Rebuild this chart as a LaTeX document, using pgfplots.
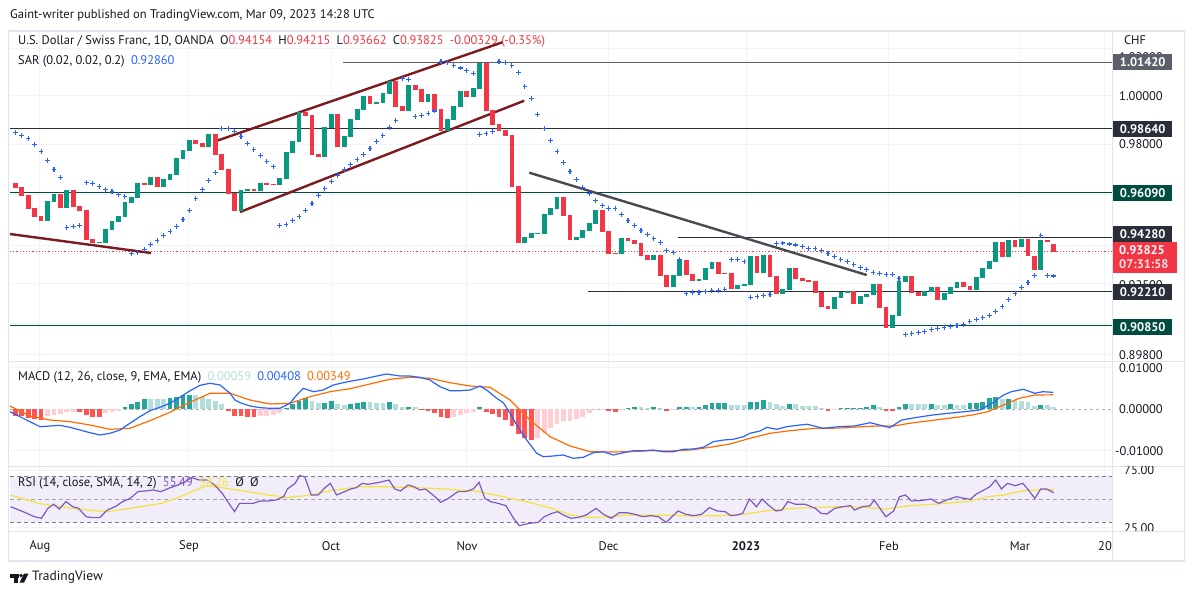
\documentclass[border=0pt]{standalone}
\usepackage{fontspec}
\setmainfont{PT Sans}
\usepackage{pgfplots}
\usepackage{pgfplotstable}
\pgfplotsset{compat=1.18}
\definecolor{tvtext}{HTML}{131722}
\definecolor{tvred}{HTML}{F23645}
\definecolor{tvgreen}{HTML}{089981}
\definecolor{sarblue}{HTML}{2962FF}
\definecolor{sigorange}{HTML}{FF6D00}
\definecolor{hg}{HTML}{26A69A}
\definecolor{hlg}{HTML}{B2DFDB}
\definecolor{hr}{HTML}{FF5252}
\definecolor{hlr}{HTML}{FFCDD2}
\definecolor{rsipurple}{HTML}{7E57C2}
\definecolor{rsiyellow}{HTML}{F5E23C}
\definecolor{rsibg}{HTML}{F2EEF9}
\definecolor{gridc}{HTML}{F0F3FA}
\definecolor{framec}{HTML}{E0E3EB}
\definecolor{maroon}{HTML}{7D1A1F}
\definecolor{trendgray}{HTML}{4A4B52}
\definecolor{lvdark}{HTML}{2A2E39}
\definecolor{lvgreen}{HTML}{004D40}
\definecolor{lvgray}{HTML}{5D606B}
\definecolor{dashgray}{HTML}{787B86}

% ---------- candles (bar index, open, close) ----------
\pgfplotstableread{
i o c
5 0.9507 0.9586
6 0.9583 0.9614
8 0.9559 0.9630
13 0.9418 0.9422
14 0.9418 0.9474
15 0.9470 0.9506
16 0.9502 0.9526
17 0.9522 0.9582
18 0.9578 0.9602
19 0.9598 0.9658
21 0.9650 0.9682
23 0.9642 0.9674
24 0.9670 0.9694
25 0.9690 0.9758
26 0.9754 0.9790
27 0.9786 0.9830
30 0.9802 0.9854
35 0.9546 0.9630
36 0.9626 0.9634
38 0.9626 0.9658
41 0.9650 0.9678
42 0.9674 0.9782
43 0.9778 0.9826
44 0.9822 0.9942
48 0.9762 0.9882
49 0.9878 0.9934
51 0.9802 0.9846
52 0.9842 0.9914
53 0.9910 0.9954
54 0.9950 1.0006
56 0.9974 0.9982
57 0.9978 1.0018
58 1.0014 1.0066
61 0.9946 1.0050
64 0.9982 1.0014
67 0.9866 0.9914
68 0.9910 0.9966
69 0.9962 1.0026
71 1.0002 1.0038
72 1.0034 1.0139
79 0.9419 0.9442
80 0.9439 0.9458
81 0.9454 0.9458
82 0.9454 0.9534
83 0.9530 0.9558
84 0.9554 0.9602
87 0.9430 0.9442
88 0.9439 0.9470
89 0.9466 0.9498
90 0.9494 0.9550
94 0.9375 0.9438
99 0.9351 0.9371
102 0.9243 0.9291
103 0.9287 0.9351
106 0.9267 0.9275
107 0.9271 0.9319
108 0.9315 0.9343
112 0.9235 0.9251
113 0.9247 0.9255
114 0.9251 0.9367
116 0.9299 0.9371
119 0.9215 0.9235
120 0.9231 0.9319
127 0.9155 0.9203
128 0.9199 0.9223
129 0.9219 0.9227
131 0.9175 0.9207
132 0.9203 0.9215
133 0.9211 0.9255
136 0.9079 0.9131
137 0.9127 0.9267
138 0.9263 0.9287
141 0.9207 0.9227
142 0.9223 0.9243
144 0.9191 0.9219
145 0.9215 0.9243
146 0.9239 0.9263
149 0.9231 0.9283
150 0.9279 0.9319
151 0.9315 0.9347
152 0.9343 0.9423
154 0.9363 0.9431
156 0.9403 0.9435
159 0.9311 0.9431
}\greenc
\pgfplotstableread{
i o c
0 0.9658 0.9639
1 0.9642 0.9607
2 0.9610 0.9555
3 0.9559 0.9523
4 0.9526 0.9507
7 0.9614 0.9559
9 0.9630 0.9563
10 0.9566 0.9547
11 0.9550 0.9430
12 0.9434 0.9418
20 0.9658 0.9650
22 0.9682 0.9642
28 0.9830 0.9814
29 0.9818 0.9802
31 0.9854 0.9770
32 0.9774 0.9710
33 0.9714 0.9614
34 0.9618 0.9546
37 0.9634 0.9626
39 0.9658 0.9650
40 0.9654 0.9650
45 0.9942 0.9926
46 0.9930 0.9770
47 0.9774 0.9762
50 0.9934 0.9802
55 1.0006 0.9974
59 1.0066 0.9962
60 0.9966 0.9946
62 1.0050 1.0030
63 1.0034 0.9982
65 1.0014 0.9950
66 0.9954 0.9866
70 1.0026 1.0002
73 1.0139 0.9946
74 0.9950 0.9890
75 0.9894 0.9866
76 0.9870 0.9846
77 0.9850 0.9643
78 0.9647 0.9419
85 0.9602 0.9527
86 0.9530 0.9430
91 0.9550 0.9462
92 0.9466 0.9375
93 0.9379 0.9375
95 0.9438 0.9427
96 0.9430 0.9415
97 0.9419 0.9367
98 0.9371 0.9351
100 0.9371 0.9287
101 0.9291 0.9243
104 0.9351 0.9291
105 0.9295 0.9267
109 0.9343 0.9295
110 0.9299 0.9295
111 0.9299 0.9235
115 0.9367 0.9299
117 0.9371 0.9283
118 0.9287 0.9215
121 0.9319 0.9275
122 0.9279 0.9267
123 0.9271 0.9263
124 0.9267 0.9219
125 0.9223 0.9163
126 0.9167 0.9155
130 0.9227 0.9175
134 0.9255 0.9159
135 0.9163 0.9079
139 0.9287 0.9219
140 0.9223 0.9207
143 0.9243 0.9191
147 0.9263 0.9243
148 0.9247 0.9231
153 0.9423 0.9363
155 0.9431 0.9403
157 0.9435 0.9367
158 0.9367 0.9311
160 0.9431 0.9423
161 0.94154 0.93825
}\redc
% ---------- parabolic SAR ----------
\pgfplotstableread{
i s
0 0.9861
1 0.9849
2 0.9837
3 0.9813
4 0.9785
5 0.9749
6 0.9713
7 0.9681
8 0.9481
9 0.9485
10 0.9489
11 0.9661
12 0.9657
13 0.9645
14 0.9633
15 0.9625
16 0.9613
17 0.9605
18 0.9377
19 0.9381
20 0.9393
21 0.9413
22 0.9429
23 0.9449
24 0.9465
25 0.9485
26 0.9513
27 0.9549
28 0.9597
29 0.9633
30 0.9669
31 0.9701
32 0.9877
33 0.9877
34 0.9865
35 0.9845
36 0.9817
37 0.9793
38 0.9769
39 0.9745
40 0.9725
41 0.9489
42 0.9493
43 0.9509
44 0.9525
45 0.9549
46 0.9577
47 0.9609
48 0.9637
49 0.9665
50 0.9689
51 0.9713
52 0.9733
53 0.9753
54 0.9773
55 0.9797
56 0.9825
57 0.9849
58 0.9881
59 0.9909
60 1.0075
61 1.0071
62 0.9923
63 0.9929
64 0.9937
65 0.9946
66 1.0145
67 1.0139
68 1.0129
69 1.0118
70 1.0109
71 1.0095
72 0.9853
73 0.9857
74 0.9863
75 1.0145
76 1.0139
77 1.0129
78 1.0101
79 1.0045
80 0.9995
81 0.9933
82 0.9877
83 0.9829
84 0.9785
85 0.9741
86 0.9705
87 0.9673
88 0.9641
89 0.9617
90 0.9587
91 0.9567
92 0.9557
93 0.9557
94 0.9533
95 0.9509
96 0.9489
97 0.9469
98 0.9453
99 0.9437
100 0.9421
101 0.9389
102 0.9381
103 0.9353
104 0.9217
105 0.9221
106 0.9221
107 0.9225
108 0.9229
109 0.9229
110 0.9233
111 0.9353
112 0.9353
113 0.9345
114 0.9201
115 0.9205
116 0.9209
117 0.9213
118 0.9417
119 0.9418
120 0.9414
121 0.9410
122 0.9403
123 0.9395
124 0.9395
125 0.9387
126 0.9375
127 0.9363
128 0.9351
129 0.9343
130 0.9331
131 0.9319
132 0.9311
133 0.9299
134 0.9295
135 0.9291
136 0.9291
137 0.9275
138 0.9051
139 0.9055
140 0.9059
141 0.9063
142 0.9071
143 0.9075
144 0.9079
145 0.9083
146 0.9087
147 0.9091
148 0.9103
149 0.9111
150 0.9119
151 0.9127
152 0.9143
153 0.9163
154 0.9191
155 0.9215
156 0.9239
157 0.9259
158 0.9287
159 0.9447
160 0.9287
161 0.9286
}\sar
% ---------- MACD ----------
\pgfplotstableread{
i v
-0.82 -0.00058
0.73 -0.00178
2.28 -0.00299
3.83 -0.00419
5.38 -0.00402
6.93 -0.00386
8.48 -0.00434
10.03 -0.00499
11.58 -0.00564
13.13 -0.00619
14.68 -0.00578
16.23 -0.00499
17.78 -0.00337
19.33 -0.00178
20.88 -0.00034
22.43 0.00048
23.98 0.00145
25.53 0.00289
27.09 0.00448
28.64 0.00578
30.19 0.00627
31.74 0.00586
33.29 0.00386
34.06 0.00224
34.84 0.00159
36.39 0.00080
37.94 0.00039
39.49 0.00024
41.04 0.00024
42.59 0.00145
43.63 0.00345
44.65 0.00506
46.20 0.00424
47.75 0.00465
49.30 0.00586
50.85 0.00641
52.40 0.00689
53.95 0.00730
56.03 0.00802
57.58 0.00851
59.64 0.00802
61.19 0.00802
62.74 0.00771
64.29 0.00706
65.84 0.00545
67.40 0.00448
68.95 0.00448
70.50 0.00465
72.05 0.00561
73.08 0.00465
74.64 0.00265
75.66 0.00159
76.71 -0.00096
77.74 -0.00378
79.29 -0.00740
80.84 -0.01060
81.86 -0.01142
83.41 -0.01125
84.96 -0.01101
86.51 -0.01181
88.06 -0.01157
89.61 -0.01046
91.16 -0.01022
92.71 -0.01101
94.26 -0.01046
95.81 -0.00998
97.36 -0.00998
98.91 -0.00981
100.47 -0.01022
102.02 -0.01022
103.57 -0.00964
105.12 -0.00957
106.67 -0.00916
108.22 -0.00781
109.77 -0.00740
111.32 -0.00723
112.87 -0.00660
113.91 -0.00578
115.46 -0.00523
116.50 -0.00434
118.05 -0.00482
119.60 -0.00419
121.66 -0.00378
122.82 -0.00361
125.24 -0.00458
127.67 -0.00419
130.11 -0.00402
132.54 -0.00323
134.37 -0.00395
135.58 -0.00443
137.41 -0.00258
139.84 -0.00193
142.28 -0.00137
144.70 -0.00096
147.13 -0.00058
149.57 -0.00017
151.40 0.00145
153.21 0.00345
154.43 0.00424
156.25 0.00482
158.08 0.00386
159.29 0.00424
160.93 0.00408
}\macd
\pgfplotstableread{
i v
-0.82 0.00080
2.28 -0.00161
5.38 -0.00258
8.48 -0.00299
11.58 -0.00378
14.68 -0.00482
17.78 -0.00458
20.88 -0.00275
23.98 -0.00072
27.09 0.00169
30.19 0.00386
33.29 0.00386
36.39 0.00224
39.49 0.00128
42.59 0.00145
45.69 0.00304
48.79 0.00424
51.89 0.00496
54.99 0.00610
58.09 0.00723
61.19 0.00771
64.29 0.00747
67.40 0.00641
70.50 0.00561
73.60 0.00530
76.71 0.00224
79.81 -0.00258
82.91 -0.00660
86.01 -0.00884
89.11 -0.01022
92.21 -0.01029
95.31 -0.01022
98.41 -0.00998
101.50 -0.01005
104.60 -0.00981
107.70 -0.00916
110.80 -0.00836
113.90 -0.00699
117.00 -0.00578
120.10 -0.00516
124.03 -0.00458
126.47 -0.00458
128.90 -0.00443
131.33 -0.00419
133.75 -0.00402
136.19 -0.00402
138.62 -0.00337
141.05 -0.00289
143.49 -0.00241
145.92 -0.00193
148.36 -0.00137
150.78 -0.00058
153.21 0.00104
155.64 0.00265
158.08 0.00345
160.93 0.00349
}\signal
\pgfplotstableread{
i v
0 -0.00161
1 -0.00161
2 -0.00217
3 -0.00241
4 -0.00258
10 -0.00065
11 -0.00137
12 -0.00176
13 -0.00176
33 -0.00031
34 -0.00150
35 -0.00170
36 -0.00176
37 -0.00180
63 -0.00017
64 -0.00031
65 -0.00080
66 -0.00176
67 -0.00200
73 -0.00055
74 -0.00120
75 -0.00193
76 -0.00258
77 -0.00402
78 -0.00602
79 -0.00699
80 -0.00740
92 -0.00041
93 -0.00055
101 -0.00031
126 -0.00041
135 -0.00041
136 -0.00041
}\histr
\pgfplotstableread{
i v
5 -0.00161
6 -0.00137
7 -0.00120
8 -0.00055
9 -0.00055
14 -0.00096
15 -0.00055
16 -0.00031
38 -0.00152
39 -0.00152
40 -0.00137
41 -0.00080
68 -0.00176
69 -0.00128
70 -0.00096
71 -0.00055
81 -0.00682
82 -0.00578
83 -0.00458
84 -0.00354
85 -0.00282
86 -0.00282
87 -0.00241
88 -0.00176
89 -0.00096
90 -0.00007
91 -0.00017
94 -0.00017
102 -0.00024
127 -0.00017
}\histlr
\pgfplotstableread{
i v
17 0.00048
18 0.00120
19 0.00186
20 0.00258
24 0.00282
25 0.00306
26 0.00337
27 0.00345
42 0.00024
43 0.00120
44 0.00200
45 0.00265
48 0.00161
49 0.00210
52 0.00120
53 0.00161
54 0.00176
58 0.00176
61 0.00065
72 0.00065
95 0.00041
96 0.00055
99 0.00055
103 0.00055
104 0.00055
106 0.00065
107 0.00113
108 0.00161
109 0.00161
110 0.00161
114 0.00176
115 0.00176
116 0.00224
120 0.00128
128 0.00041
129 0.00041
130 0.00041
131 0.00041
132 0.00065
133 0.00113
137 0.00055
138 0.00137
142 0.00137
145 0.00137
148 0.00161
149 0.00161
150 0.00186
151 0.00265
152 0.00289
154 0.00258
159 0.00113
}\histg
\pgfplotstableread{
i v
21 0.00258
22 0.00241
23 0.00241
28 0.00337
29 0.00289
30 0.00241
31 0.00200
32 0.00128
46 0.00210
47 0.00145
50 0.00137
51 0.00104
55 0.00169
56 0.00161
57 0.00161
59 0.00120
60 0.00065
62 0.00065
97 0.00048
98 0.00024
100 0.00024
105 0.00055
111 0.00113
112 0.00113
113 0.00113
117 0.00176
118 0.00128
119 0.00080
121 0.00128
122 0.00089
123 0.00089
124 0.00089
125 0.00036
134 0.00065
139 0.00137
140 0.00137
141 0.00137
143 0.00113
144 0.00113
146 0.00113
147 0.00113
153 0.00241
155 0.00224
156 0.00210
157 0.00186
158 0.00080
160 0.00113
161 0.00059
}\histlg
% ---------- RSI ----------
\pgfplotstableread{
i r
-0.71 43.3
1.20 39.0
2.98 34.6
4.05 33.2
5.06 41.9
5.95 45.4
6.84 41.3
7.85 47.7
8.92 43.3
9.81 41.9
11.00 34.6
11.90 33.8
13.08 33.8
14.27 40.4
15.46 43.3
16.65 47.7
17.83 50.6
19.02 56.4
20.21 57.0
21.40 57.8
22.59 56.4
23.77 59.3
24.96 61.6
26.15 64.5
27.34 68.6
28.53 66.5
29.72 66.5
30.90 62.2
32.09 54.9
33.28 44.8
34.00 39.0
34.77 46.2
35.95 46.2
36.85 46.2
38.03 48.3
39.22 48.3
40.41 49.1
41.60 52.0
42.19 58.7
43.38 63.6
44.09 70.3
44.87 69.4
45.88 53.5
46.95 53.5
48.02 59.9
48.85 63.6
49.80 53.5
50.81 55.8
52.00 58.7
52.89 59.9
53.78 63.6
54.67 62.8
55.56 63.6
56.45 64.5
57.94 66.5
58.83 58.7
59.72 57.0
60.91 62.2
61.80 60.7
62.69 57.8
63.58 58.7
64.77 53.5
65.96 47.1
67.15 50.6
68.63 56.4
69.82 56.4
71.01 58.7
71.90 64.5
72.79 50.6
73.68 47.7
74.87 46.2
76.06 44.2
77.25 33.2
78.14 26.8
79.63 28.8
81.11 29.7
82.00 34.6
83.19 37.5
84.08 39.0
84.97 36.1
86.16 33.2
87.35 34.1
88.54 36.1
90.03 41.9
91.20 36.7
92.40 33.2
93.63 38.1
94.84 38.1
96.06 36.7
97.28 34.6
98.49 35.5
99.71 34.6
100.92 29.7
102.75 39.6
103.96 36.7
105.18 35.5
106.40 36.7
107.61 42.5
108.83 39.6
110.04 39.0
110.95 35.5
111.87 36.1
112.78 37.5
113.81 50.0
114.91 43.3
115.82 50.0
116.73 44.8
117.95 39.6
118.86 40.4
119.77 47.7
120.99 45.4
122.50 45.4
124.03 41.9
124.94 37.5
125.85 37.0
127.06 41.9
128.28 43.3
129.50 44.2
130.10 40.4
131.32 43.3
132.53 44.2
133.14 49.1
134.05 41.9
134.97 34.6
136.18 39.6
137.10 52.0
138.01 53.5
138.92 48.3
140.44 48.6
141.96 50.0
143.17 46.2
144.39 49.1
145.91 52.0
147.12 50.6
148.04 49.7
148.95 54.1
150.16 57.8
151.08 60.7
151.99 66.5
152.90 58.7
153.81 63.6
155.03 61.6
156.24 63.6
158.07 50.6
158.98 58.7
159.89 58.7
161.00 55.49
}\rsi
\pgfplotstableread{
i r
-0.71 53.5
3.57 46.2
9.51 41.3
14.27 39.0
17.83 41.9
22.59 46.2
24.96 50.6
27.34 56.4
29.72 61.6
30.90 60.7
34.47 57.8
39.22 53.5
42.19 51.4
45.16 52.9
48.73 57.0
53.48 60.7
57.05 60.7
61.80 59.9
64.77 59.3
68.93 57.8
71.90 56.4
74.87 52.9
79.63 47.1
83.19 41.9
86.16 36.1
88.54 34.1
91.20 34.3
94.84 36.1
99.71 36.1
104.57 35.2
109.43 35.5
113.08 36.7
116.73 39.9
120.38 41.9
124.03 42.5
127.67 43.3
131.32 42.8
134.97 41.3
138.61 44.2
142.26 45.4
145.91 47.1
147.73 47.7
150.77 52.0
153.20 53.5
156.24 57.0
158.07 57.8
161.00 58.26
}\rsisma

\tikzset{lbl/.style={font=\fontsize{12.5}{14}\selectfont, text=tvtext, inner sep=0pt},
  box/.style={font=\fontsize{12.5}{14}\selectfont\bfseries, text=white, inner sep=0pt, minimum width=59pt, minimum height=16pt, anchor=west}}
\pgfplotsset{pane/.style={scale only axis, width=1102pt, anchor=south west,
  xmin=-0.82, xmax=170.03, axis line style={draw=none}, tick style={draw=none},
  xticklabels={}, yticklabels={}, scaled y ticks=false, scaled x ticks=false,
  grid=major, major grid style={draw=gridc, line width=1pt},
  xtick={3.83,26.93,48.95,70.03,91.98,113.29,135.45,155.77,168.94}}}

\begin{document}
\begin{tikzpicture}[x=1pt,y=1pt]
\fill[white] (0pt,0pt) rectangle (1194pt,595pt);

% ================= main price pane =================
\begin{axis}[pane, at={(10pt,233pt)}, height=331pt, ymin=0.8942, ymax=1.0266,
  ytick={0.89704,0.90968,0.9254,0.94092,0.9612,0.98116,1.00064,1.01956}]
% horizontal levels
\addplot[lvgray, line width=1pt] coordinates {(50.85,1.01408) (170.03,1.01408)};
\addplot[lvdark, line width=1pt] coordinates {(-0.82,0.9874) (170.03,0.9874)};
\addplot[lvgreen, line width=1pt] coordinates {(-0.82,0.9620) (170.03,0.9620)};
\addplot[lvdark, line width=1pt] coordinates {(102.8,0.94392) (170.03,0.94392)};
\addplot[lvdark, line width=1pt] coordinates {(88.84,0.9224) (170.03,0.9224)};
\addplot[lvgreen, line width=1pt] coordinates {(-0.82,0.9086) (170.03,0.9086)};
\addplot[tvred, line width=0.9pt, dash pattern=on 1.2pt off 2pt] coordinates {(-0.82,0.9386) (170.03,0.9386)};
% trend lines
\addplot[maroon, line width=2.4pt] coordinates {(30.96,0.98244) (75.61,1.02216)};
\addplot[maroon, line width=2.4pt] coordinates {(34.84,0.9542) (78.91,0.99872)};
\addplot[maroon, line width=2.4pt] coordinates {(-0.82,0.9454) (21.04,0.9378)};
\addplot[trendgray, line width=2.4pt] coordinates {(79.69,0.96992) (132.0,0.929)};
% SAR
\addplot[only marks, mark=+, mark size=2.3pt, mark options={draw=sarblue, line width=1.1pt}] table[x=i, y=s] {\sar};
% candles
\addplot[draw=none, no markers, forget plot, error bars/.cd, y dir=plus, y explicit, error mark=none,
  error bar style={draw=tvgreen, line width=4.8pt, solid}]
  table[x=i, y=o, y error expr=\thisrow{c}-\thisrow{o}] {\greenc};
\addplot[draw=none, no markers, forget plot, error bars/.cd, y dir=plus, y explicit, error mark=none,
  error bar style={draw=tvred, line width=4.8pt, solid}]
  table[x=i, y=c, y error expr=\thisrow{o}-\thisrow{c}] {\redc};
\end{axis}

% ================= MACD pane =================
\begin{axis}[pane, at={(10pt,129pt)}, height=104pt, ymin=-0.013663, ymax=0.011398,
  ytick={-0.01,0.01}]
\draw[dashgray!60, dash pattern=on 3pt off 3pt, line width=0.8pt] (axis cs:-0.82,0) -- (axis cs:170.03,0);
\addplot[ycomb, draw=hr, line width=4.8pt, mark=none] table[x=i, y=v] {\histr};
\addplot[ycomb, draw=hlr, line width=4.8pt, mark=none] table[x=i, y=v] {\histlr};
\addplot[ycomb, draw=hg, line width=4.8pt, mark=none] table[x=i, y=v] {\histg};
\addplot[ycomb, draw=hlg, line width=4.8pt, mark=none] table[x=i, y=v] {\histlg};
\addplot[sigorange, line width=1.2pt, mark=none] table[x=i, y=v] {\signal};
\addplot[sarblue, line width=1.2pt, mark=none] table[x=i, y=v] {\macd};
\end{axis}

% ================= RSI pane =================
\begin{axis}[pane, at={(10pt,64pt)}, height=65pt, ymin=22.17, ymax=78.7, ytick={25,75}]
\fill[rsibg] (axis cs:-0.82,30) rectangle (axis cs:170.03,70);
\draw[dashgray, dash pattern=on 4pt off 3pt, line width=0.8pt] (axis cs:-0.82,70) -- (axis cs:170.03,70);
\draw[dashgray!70, dash pattern=on 4pt off 3pt, line width=0.8pt] (axis cs:-0.82,50) -- (axis cs:170.03,50);
\draw[dashgray, dash pattern=on 4pt off 3pt, line width=0.8pt] (axis cs:-0.82,30) -- (axis cs:170.03,30);
\addplot[rsiyellow, line width=1.2pt, mark=none] table[x=i, y=r] {\rsisma};
\addplot[rsipurple, line width=1.2pt, mark=none] table[x=i, y=r] {\rsi};
\end{axis}

% ================= frame and separators =================
\draw[framec, line width=1pt] (1112pt,34pt) -- (1112pt,564pt);
\draw[framec, line width=1pt] (8.5pt,233pt) -- (1184.5pt,233pt);
\draw[framec, line width=1pt] (8.5pt,129pt) -- (1184.5pt,129pt);
\draw[framec, line width=1pt] (8.5pt,64pt) -- (1184.5pt,64pt);
\draw[framec, line width=1.2pt] (8.5pt,34pt) rectangle (1184.5pt,564pt);

% ================= price scale =================
\begin{scope}
\clip (1113pt,233.5pt) rectangle (1184pt,563.5pt);
\node[lbl, anchor=west] at (1119pt,538pt) {1.02000};
\node[lbl, anchor=west] at (1119pt,499.1pt) {1.00000};
\node[lbl, anchor=west] at (1119pt,450.4pt) {0.98000};
\node[lbl, anchor=west] at (1119pt,310pt) {0.92500};
\node[lbl, anchor=west] at (1119pt,240.1pt) {0.89800};
\end{scope}
\node[lbl, anchor=center] at (1135pt,555pt) {CHF};
\node[box, fill=lvgray] at (1113pt,532.5pt) {1.01420};
\node[box, fill=lvdark] at (1113pt,466pt) {0.98640};
\node[box, fill=lvgreen] at (1113pt,402.1pt) {0.96090};
\node[box, fill=lvdark] at (1113pt,361.2pt) {0.94280};
\fill[tvred] (1113pt,322pt) rectangle (1177pt,353pt);
\node[font=\fontsize{12.5}{14}\selectfont\bfseries, text=white, inner sep=0pt, anchor=west] at (1119pt,345pt) {0.93825};
\node[font=\fontsize{12.5}{14}\selectfont\bfseries, text=white!85!tvred, inner sep=0pt, anchor=west] at (1119pt,330.5pt) {07:31:58};
\node[box, fill=lvdark] at (1113pt,303pt) {0.92210};
\node[box, fill=lvgreen] at (1113pt,267.7pt) {0.90850};

\begin{scope}
\clip (1113pt,129.5pt) rectangle (1184pt,232.5pt);
\node[lbl, anchor=west] at (1119pt,227pt) {0.01000};
\node[lbl, anchor=west] at (1119pt,185.7pt) {0.00000};
\node[lbl, anchor=west] at (1115pt,144.2pt) {-0.01000};
\end{scope}
\begin{scope}
\clip (1113pt,64.5pt) rectangle (1184pt,128.5pt);
\node[lbl, anchor=west] at (1124pt,124.75pt) {75.00};
\node[lbl, anchor=west] at (1124pt,67.25pt) {25.00};
\end{scope}

% ================= date axis =================
\foreach \xx/\tt in {40/Aug,189/Sep,331/Oct,467/Nov,608.6/Dec,889/Feb,1020/Mar,1105/20}
  \node[lbl] at (\xx pt,49pt) {\tt};
\node[lbl, font=\fontsize{12.5}{14}\selectfont\bfseries] at (746pt,49pt) {2023};

% ================= legends =================
\node[lbl, anchor=west] at (18pt,554pt) {U.S. Dollar / Swiss Franc, 1D, OANDA\enspace O\textcolor{tvred}{0.94154}\enspace H\textcolor{tvred}{0.94215}\enspace L\textcolor{tvred}{0.93662}\enspace C\textcolor{tvred}{0.93825}\enspace\textcolor{tvred}{-0.00329 (-0.35\%)}};
\node[lbl, anchor=west] at (18pt,534pt) {SAR (0.02, 0.02, 0.2)\enspace\textcolor{sarblue}{0.92860}};
\node[lbl, anchor=west] at (18pt,217.5pt) {MACD (12, 26, close, 9, EMA, EMA)\enspace\textcolor{hlg}{0.00059}\enspace\textcolor{sarblue}{0.00408}\enspace\textcolor{sigorange}{0.00349}};
\node[lbl, anchor=west] at (18pt,112pt) {RSI (14, close, SMA, 14, 2)\enspace\textcolor{rsipurple}{55.49}\enspace\textcolor{rsiyellow}{58.26}\enspace Ø\enspace Ø};

% ================= header and footer =================
\node[lbl, anchor=west] at (10pt,580pt) {Gaint-writer published on TradingView.com, Mar 09, 2023 14:28 UTC};
\fill[tvtext] (10pt,21.5pt) rectangle (19pt,17.5pt);
\fill[tvtext] (13.5pt,17.5pt) rectangle (17.5pt,12.5pt);
\fill[tvtext] (21pt,19.5pt) circle (1.9pt);
\fill[tvtext] (24pt,21.5pt) -- (28.5pt,21.5pt) -- (24pt,12.5pt) -- (19.5pt,12.5pt) -- cycle;
\node[lbl, anchor=west, font=\fontsize{13.5}{15}\selectfont] at (32pt,17.5pt) {TradingView};
\end{tikzpicture}
\end{document}
